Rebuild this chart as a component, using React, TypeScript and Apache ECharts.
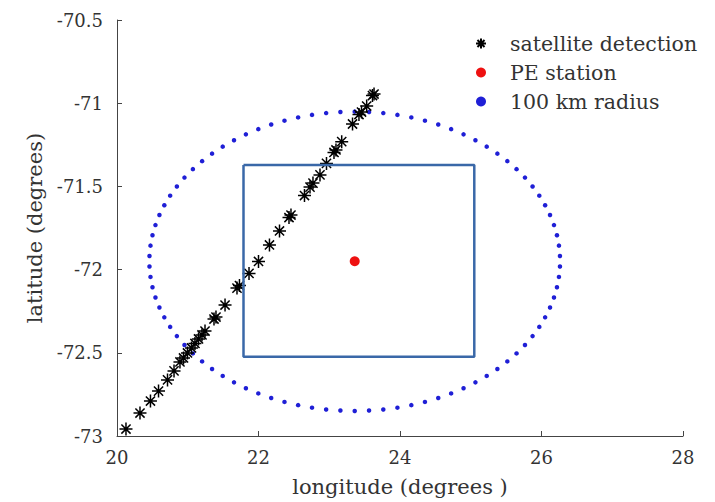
import React, { useEffect, useRef } from "react";
import * as echarts from "echarts";

// Satellite detections (longitude, latitude)
const satLon = [20.127, 20.325, 20.473, 20.587, 20.714, 20.806, 20.89, 20.94, 20.996, 21.053, 21.102, 21.152, 21.201, 21.244, 21.371, 21.399, 21.527, 21.696, 21.731, 21.866, 22.0, 22.155, 22.297, 22.431, 22.459, 22.65, 22.728, 22.77, 22.869, 22.961, 23.067, 23.095, 23.176, 23.329, 23.42, 23.456, 23.529, 23.611, 23.633];
const satLat = [-72.958, -72.862, -72.79, -72.73, -72.663, -72.609, -72.555, -72.531, -72.501, -72.471, -72.444, -72.417, -72.393, -72.369, -72.297, -72.285, -72.213, -72.111, -72.096, -72.023, -71.951, -71.852, -71.768, -71.687, -71.672, -71.555, -71.504, -71.48, -71.431, -71.362, -71.296, -71.281, -71.231, -71.125, -71.068, -71.053, -71.017, -70.954, -70.945];

// PE station
const stationLon = [23.36];
const stationLat = [-71.95];

// 100 km radius circle around the station (sampled every 4 degrees of bearing)
const radiusKm = 100;
const kmPerDegree = 111.19;
const bearingsDeg = Array.from({ length: 90 }, (_, i) => 2 + 4 * i);

// Box around the area of interest
const rectLon = [21.788, 25.05, 25.05, 21.788, 21.788];
const rectLat = [-71.371, -71.371, -72.523, -72.523, -71.371];

const xTicks = { min: 20, max: 28, interval: 2 };
const yTicks = { min: -73, max: -70.5, interval: 0.5 };

const FONT = "DejaVu Serif";
const TEXT = "#333";

export default function App() {
  const ref = useRef<HTMLDivElement>(null);
  useEffect(() => {
    if (!ref.current) return;
    const chart = echarts.init(ref.current, undefined, { renderer: "svg" });

    const latR = radiusKm / kmPerDegree;
    const lonR = latR / Math.cos((stationLat[0] * Math.PI) / 180);
    const circle = bearingsDeg.map((b) => {
      const t = (b * Math.PI) / 180;
      return [stationLon[0] + lonR * Math.cos(t), stationLat[0] + latR * Math.sin(t)];
    });

    const asterisk =
      "path://M0,-10L0,10M-10,0L10,0M-7.07,-7.07L7.07,7.07M-7.07,7.07L7.07,-7.07";

    chart.setOption({
      animation: false,
      backgroundColor: "#fff",
      grid: { left: 117, right: 32, top: 20, bottom: 66 },
      xAxis: {
        type: "value",
        min: xTicks.min,
        max: xTicks.max,
        interval: xTicks.interval,
        name: "longitude (degrees )",
        nameLocation: "middle",
        nameGap: 40,
        nameTextStyle: { fontFamily: FONT, fontSize: 21, color: TEXT },
        axisLine: { show: true, onZero: false, lineStyle: { color: "#444", width: 1 } },
        axisTick: { show: true, inside: true, length: 5, lineStyle: { color: "#444" } },
        axisLabel: { fontFamily: FONT, fontSize: 18, color: TEXT, margin: 12 },
        splitLine: { show: false },
      },
      yAxis: {
        type: "value",
        min: yTicks.min,
        max: yTicks.max,
        interval: yTicks.interval,
        name: "latitude (degrees)",
        nameLocation: "middle",
        nameGap: 68,
        nameTextStyle: { fontFamily: FONT, fontSize: 21, color: TEXT },
        axisLine: { show: true, onZero: false, lineStyle: { color: "#444", width: 1 } },
        axisTick: { show: true, inside: true, length: 5, lineStyle: { color: "#444" } },
        axisLabel: { fontFamily: FONT, fontSize: 18, color: TEXT, margin: 14 },
        splitLine: { show: false },
      },
      legend: {
        orient: "vertical",
        left: 470,
        top: 28,
        itemWidth: 48,
        itemHeight: 10,
        itemGap: 8,
        data: ["satellite detection", "PE station", "100 km radius"],
        textStyle: { fontFamily: FONT, fontSize: 20.5, color: TEXT, lineHeight: 20 },
      },
      series: [
        {
          name: "box",
          type: "line",
          data: rectLon.map((x, i) => [x, rectLat[i]]),
          showSymbol: false,
          lineStyle: { color: "#3a68a8", width: 2.5 },
          silent: true,
        },
        {
          name: "100 km radius",
          type: "scatter",
          data: circle,
          symbol: "circle",
          symbolSize: 4.5,
          itemStyle: { color: "#1f1fd6", opacity: 1 },
        },
        {
          name: "satellite detection",
          type: "scatter",
          data: satLon.map((x, i) => [x, satLat[i]]),
          symbol: asterisk,
          symbolSize: 13,
          itemStyle: { color: "transparent", borderColor: "#000", borderWidth: 1.5, opacity: 1 },
        },
        {
          name: "PE station",
          type: "scatter",
          data: stationLon.map((x, i) => [x, stationLat[i]]),
          symbol: "circle",
          symbolSize: 10,
          itemStyle: { color: "#ee1111", opacity: 1 },
        },
      ],
    });
    return () => chart.dispose();
  }, []);
  return (
    <div
      ref={ref}
      style={{ position: "fixed", left: 0, top: 0, width: 715, height: 502, background: "#fff" }}
    />
  );
}
